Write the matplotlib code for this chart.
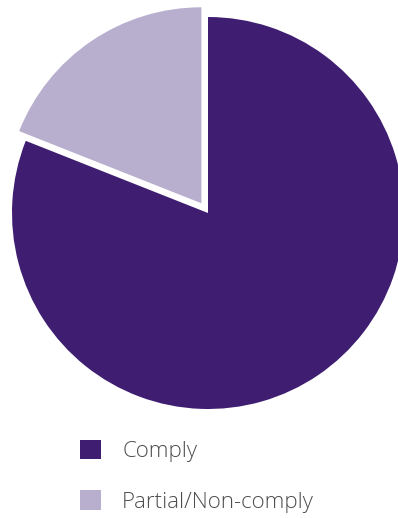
import matplotlib

matplotlib.use("Agg")
import matplotlib.pyplot as plt
from matplotlib.patches import Patch

labels = ["Comply", "Partial/Non-comply"]
values = [81, 19]
colors = ["#3f1e72", "#b8afcf"]
explode = [0.0, 0.06]

W, H = 398, 518
fig = plt.figure(figsize=(W / 100, H / 100), dpi=100)

# pie centre ~ (208, 213) px from top-left, radius ~196 px
r_px = 196
half = 1.1 * r_px
cx, cy = 208, H - 213
ax = fig.add_axes([(cx - half) / W, (cy - half) / H, 2 * half / W, 2 * half / H])
ax.pie(values, colors=colors, explode=explode, startangle=90, counterclock=False,
       wedgeprops={"linewidth": 0})
ax.set_xlim(-1.1, 1.1)
ax.set_ylim(-1.1, 1.1)
ax.set_aspect("equal")
ax.axis("off")

handles = [Patch(facecolor=c, edgecolor="none") for c in colors]
fig.legend(handles, labels, loc="upper left", bbox_to_anchor=(80 / W, 1 - 440 / H),
           frameon=False, borderpad=0, borderaxespad=0,
           handlelength=0.95, handleheight=0.95, handletextpad=0.95, labelspacing=1.27,
           labelcolor="#4d4d4d",
           prop={"family": "Open Sans", "size": 16, "weight": 300})

fig.savefig("out.png", dpi=100)
